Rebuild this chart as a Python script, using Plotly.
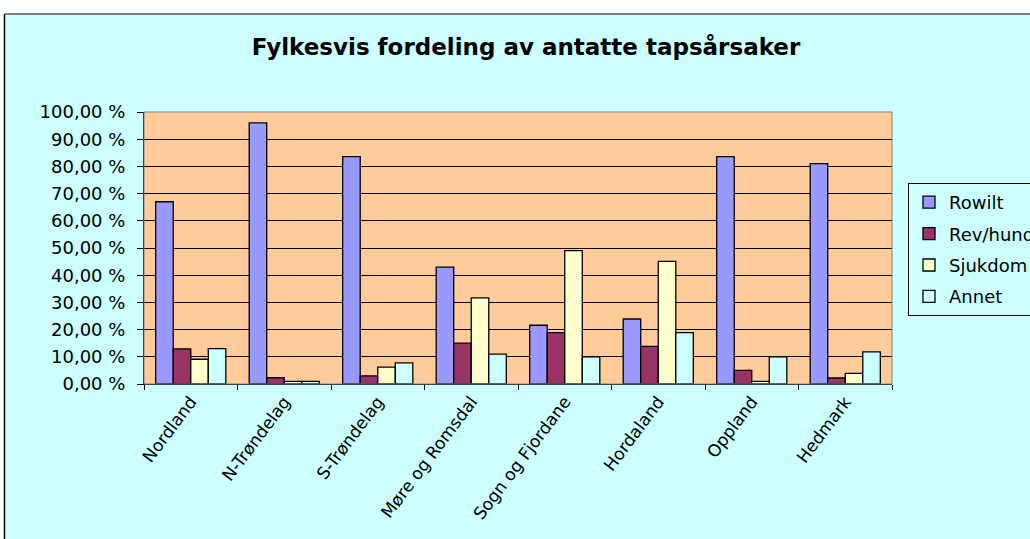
import plotly.graph_objects as go

categories = ["Nordland", "N-Trøndelag", "S-Trøndelag", "Møre og Romsdal",
              "Sogn og Fjordane", "Hordaland", "Oppland", "Hedmark"]
rowilt = [67.0, 96.0, 83.6, 43.0, 21.6, 23.9, 83.6, 81.0]
rev_hund = [12.9, 2.3, 3.0, 15.0, 18.9, 13.8, 5.0, 2.2]
sjukdom = [9.1, 1.0, 6.2, 31.7, 49.0, 45.1, 1.0, 3.9]
annet = [13.0, 1.0, 7.8, 11.0, 10.0, 18.9, 10.0, 11.8]

series_names = ["Rowilt", "Rev/hund", "Sjukdom", "Annet"]
series_values = [rowilt, rev_hund, sjukdom, annet]
series_colors = ["#9999FF", "#993366", "#FFFFCC", "#CCFFFF"]

y_tickvals = [0, 10, 20, 30, 40, 50, 60, 70, 80, 90, 100]
y_ticktext = ["0,00 %", "10,00 %", "20,00 %", "30,00 %", "40,00 %", "50,00 %",
              "60,00 %", "70,00 %", "80,00 %", "90,00 %", "100,00 %"]

title_text = "Fylkesvis fordeling av antatte tapsårsaker"

fig = go.Figure()
for name, vals, col in zip(series_names, series_values, series_colors):
    fig.add_trace(go.Bar(
        name=name, x=categories, y=vals, legendgroup=name,
        marker=dict(color=col, line=dict(color="black", width=1.3)),
    ))

# pixel helpers for the chart-area frame (plot area: x 144..892, y 112..384)
L, R, T, B = 144, 892, 112, 384
def px(x):
    return (x - L) / (R - L)
def py(y):
    return (B - y) / (B - T)

shapes = [
    # white margin above and to the left of the chart area
    dict(type="rect", xref="paper", yref="paper", x0=px(-20), x1=px(1100), y0=py(14), y1=py(-20),
         fillcolor="white", line=dict(width=0), layer="below"),
    dict(type="rect", xref="paper", yref="paper", x0=px(-20), x1=px(4.5), y0=py(600), y1=py(14),
         fillcolor="white", line=dict(width=0), layer="below"),
    # chart-area border
    dict(type="line", xref="paper", yref="paper", x0=px(4.5), x1=px(4.5), y0=py(14), y1=py(600),
         line=dict(color="black", width=1.5)),
    dict(type="line", xref="paper", yref="paper", x0=px(4.5), x1=px(1100), y0=py(14), y1=py(14),
         line=dict(color="#555555", width=1.5)),
    # plot-area border (grey)
    dict(type="rect", xref="paper", yref="paper", x0=0, x1=1, y0=0, y1=1,
         line=dict(color="#808080", width=1), layer="above"),
]

fig.update_layout(
    width=1030, height=539,
    margin=dict(l=L, r=1030 - R, t=T, b=539 - B, autoexpand=False),
    paper_bgcolor="#CCFFFF",
    plot_bgcolor="#FFCC99",
    barmode="group", bargap=0.25, bargroupgap=0,
    font=dict(family="DejaVu Sans", color="black"),
    title=dict(text=title_text, x=526 / 1030, xanchor="center", y=1 - 47 / 539, yanchor="middle",
               font=dict(family="DejaVu Sans", size=23, color="black", weight="bold")),
    legend=dict(x=px(908), xanchor="left", y=py(183), yanchor="top",
                bgcolor="#CCFFFF", bordercolor="black", borderwidth=1,
                font=dict(family="DejaVu Sans", size=18, color="black"),
                traceorder="grouped", tracegroupgap=5),
    shapes=shapes,
    xaxis=dict(type="category", tickangle=-53, tickfont=dict(size=17, family="DejaVu Sans"),
               showline=True, linecolor="black", linewidth=1,
               ticks="outside", ticklen=5, tickcolor="black", tickson="boundaries",
               showgrid=False),
    yaxis=dict(range=[0, 100], tickvals=y_tickvals, ticktext=y_ticktext,
               tickfont=dict(size=18, family="DejaVu Sans"),
               showline=True, linecolor="black", linewidth=1,
               ticks="outside", ticklen=6, tickcolor="black", ticklabelstandoff=8,
               showgrid=True, gridcolor="black", gridwidth=1, zeroline=False),
)

fig.write_html(
    "out.html",
    config={"displayModeBar": False},
    post_script="document.body.style.margin='0';document.body.style.overflow='hidden';",
)
